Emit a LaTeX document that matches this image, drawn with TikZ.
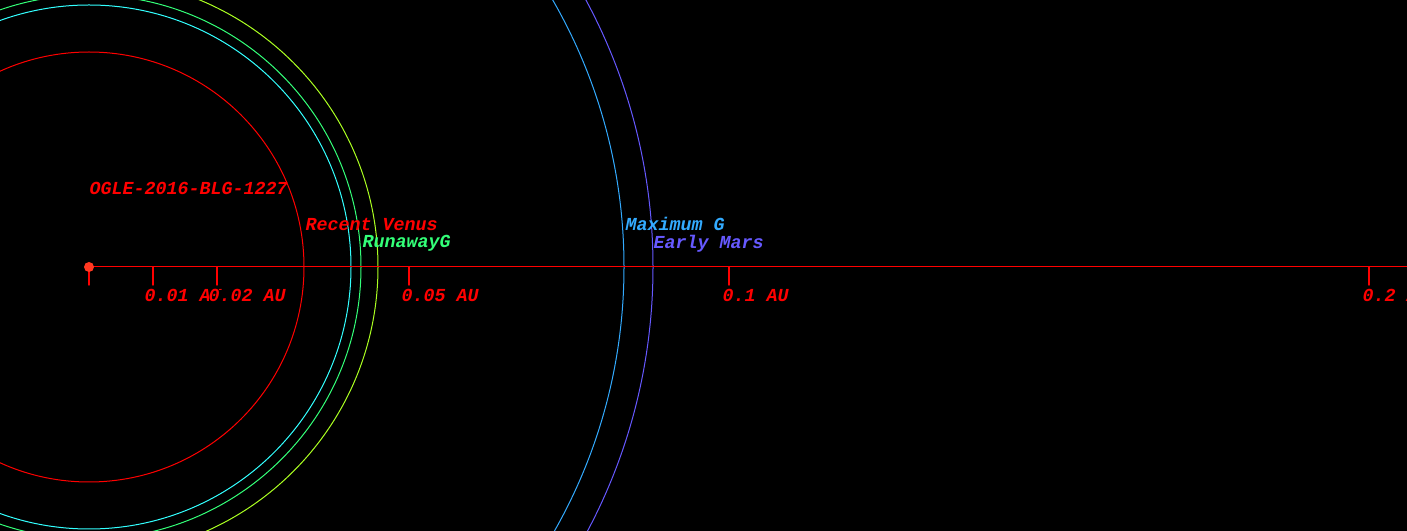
\documentclass[tikz,border=0pt]{standalone}
\usepackage{fontspec}
\setmainfont{Liberation Mono}
\usetikzlibrary{arrows}
\definecolor{ffqqqq}{rgb}{1.0,0.0,0.0}
\definecolor{ffttbb}{rgb}{1.0,0.22,0.13}
\definecolor{ttffff}{rgb}{0.2,1.0,1.0}
\definecolor{ttffxx}{rgb}{0.2,1.0,0.47}
\definecolor{aaffcc}{rgb}{0.67,1.0,0.13}
\definecolor{ttaaff}{rgb}{0.2,0.67,1.0}
\definecolor{uuuuff}{rgb}{0.4,0.35,1.0}
\tikzset{lbl/.style={anchor=base west,inner sep=0pt,font=\fontsize{13.75pt}{16pt}\selectfont\bfseries\itshape}}
\begin{document}
\begin{tikzpicture}[line cap=round,line join=round,line width=0.75pt,x=0.75pt,y=0.75pt]
\fill [black] (-89,-264) rectangle (1318,267);
\clip (-89,-264) rectangle (1318,267);
\draw [color=ffqqqq] (0,0) circle (215);
\draw [color=ttffff] (0,0) circle (262);
\draw [color=ttffxx] (0,0) circle (272);
\draw [color=aaffcc] (0,0) circle (289);
\draw [color=ttaaff] (0,0) circle (535);
\draw [color=uuuuff] (0,0) circle (564);
\coordinate (star) at (0,0);
\coordinate (axisend) at (1320,0);
\draw [color=ffqqqq] (star)-- (axisend);
\draw [color=ffqqqq,line width=1.1pt] (0,0)-- (0,-18);
\draw [color=ffqqqq,line width=1.1pt] (64,0)-- (64,-18);
\draw [color=ffqqqq,line width=1.1pt] (128,0)-- (128,-18);
\draw [color=ffqqqq,line width=1.1pt] (320,0)-- (320,-18);
\draw [color=ffqqqq,line width=1.1pt] (640,0)-- (640,-18);
\draw [color=ffqqqq,line width=1.1pt] (1280,0)-- (1280,-18);
\fill [color=ffttbb] (star) circle (5);
\node [lbl,color=ffqqqq,fill=black] (t001) at (55,-35) {0.01 AU};
\node [lbl,color=ffqqqq,fill=black] (t002) at (119,-35) {0.02 AU};
\node [lbl,color=ffqqqq,fill=black] (t005) at (312,-35) {0.05 AU};
\node [lbl,color=ffqqqq,fill=black] (t01) at (633,-35) {0.1 AU};
\node [lbl,color=ffqqqq,fill=black] (t02) at (1273,-35) {0.2 AU};
\node [lbl,color=ffqqqq] (starname) at (0,72) {OGLE-2016-BLG-1227};
\node [lbl,color=ffqqqq] (venus) at (216,36) {Recent Venus};
\node [lbl,color=ttffxx] (runaway) at (273,19) {RunawayG};
\node [lbl,color=ttaaff] (maxg) at (536,36) {Maximum G};
\node [lbl,color=uuuuff] (mars) at (564,18) {Early Mars};
\end{tikzpicture}
\end{document}
